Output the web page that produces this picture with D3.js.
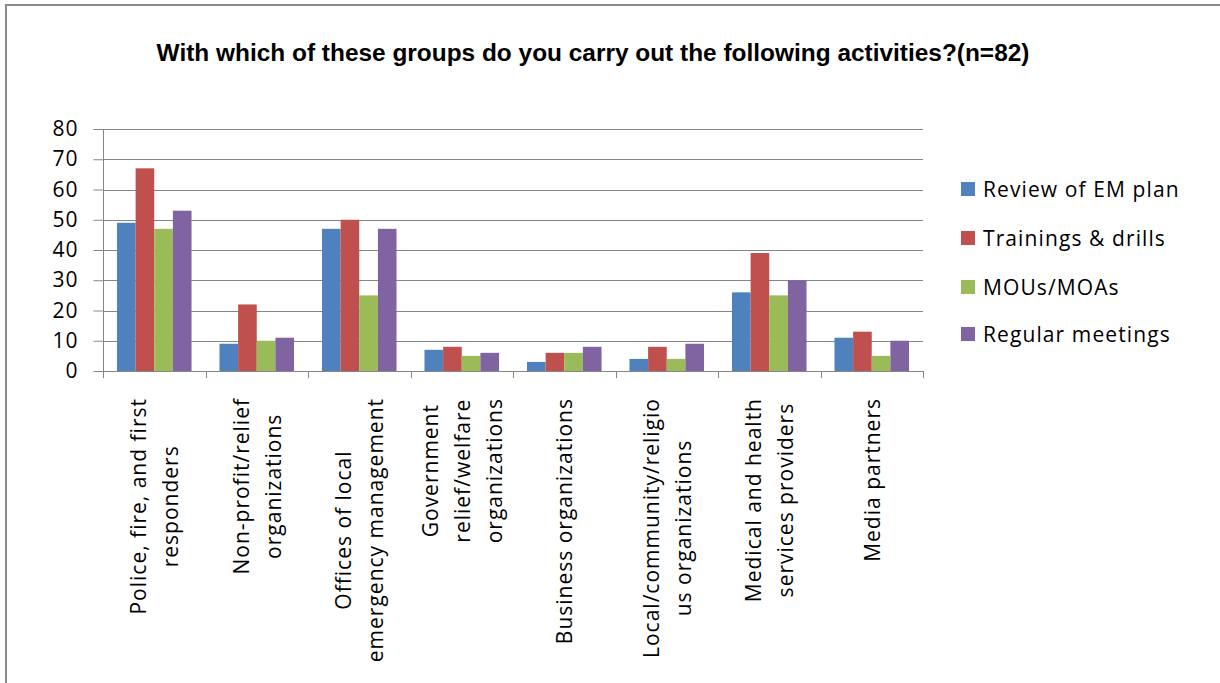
<!DOCTYPE html>
<html>
<head>
<meta charset="utf-8">
<script src="https://cdn.jsdelivr.net/npm/d3@7/dist/d3.min.js"></script>
<style>
  html, body { margin: 0; padding: 0; background: #fff; }
  svg { display: block; }
</style>
</head>
<body>
<svg id="chart" width="1220" height="683"></svg>
<script>
// Activity groups (x categories), split into the lines shown under the axis
const categories = [
  "Police, fire, and first responders",
  "Non-profit/relief organizations",
  "Offices of local emergency management",
  "Government relief/welfare organizations",
  "Business organizations",
  "Local/community/religious organizations",
  "Medical and health services providers",
  "Media partners"
];
const categoryLines = [
  ["Police, fire, and first", "responders"],
  ["Non-profit/relief", "organizations"],
  ["Offices of local", "emergency management"],
  ["Government", "relief/welfare", "organizations"],
  ["Business organizations"],
  ["Local/community/religio", "us organizations"],
  ["Medical and health", "services providers"],
  ["Media partners"]
];

// Series
const seriesNames = ["Review of EM plan", "Trainings & drills", "MOUs/MOAs", "Regular meetings"];
const reviewEMPlan     = [49,  9, 47, 7, 3, 4, 26, 11];
const trainingsDrills  = [67, 22, 50, 8, 6, 8, 39, 13];
const mousMoas         = [47, 10, 25, 5, 6, 4, 25,  5];
const regularMeetings  = [53, 11, 47, 6, 8, 9, 30, 10];
const seriesValues = [reviewEMPlan, trainingsDrills, mousMoas, regularMeetings];
const seriesColors = ["#4F81BD", "#C0504D", "#9BBB59", "#8064A2"];

const yTicks = [0, 10, 20, 30, 40, 50, 60, 70, 80];
const titleText = "With which of these groups do you carry out the following activities?(n=82)";

const svg = d3.select("#chart");
const W = 1220, H = 683;
const plot = { left: 103, right: 923, top: 129, bottom: 371 };
const axisColor = "#868686";
const uiFont = "'Open Sans', 'DejaVu Sans', sans-serif";

// Outer frame (top and left edges)
svg.append("line").attr("x1", 5).attr("x2", W).attr("y1", 5).attr("y2", 5)
  .attr("stroke", "#8a8a8a").attr("stroke-width", 2);
svg.append("line").attr("x1", 6).attr("x2", 6).attr("y1", 5).attr("y2", H)
  .attr("stroke", "#8a8a8a").attr("stroke-width", 2);

// Title, condensed horizontally to its width
const titleG = svg.append("g");
const title = titleG.append("text")
  .attr("x", 0).attr("y", 0)
  .attr("text-anchor", "middle")
  .attr("font-family", "'Liberation Sans', Arial, sans-serif")
  .attr("font-weight", "bold")
  .attr("font-size", 23)
  .attr("fill", "#000")
  .text(titleText);
{
  const len = title.node().getComputedTextLength();
  titleG.attr("transform", `translate(593,61) scale(${873 / len},1)`);
}

// Scales
const x0 = d3.scaleBand().domain(d3.range(categories.length))
  .range([plot.left, plot.right]).paddingInner(0).paddingOuter(0);
const barW = x0.bandwidth() / 5.5; // gap width 150%
const y = d3.scaleLinear().domain([0, 80]).range([plot.bottom, plot.top]);

// Gridlines
svg.append("g").selectAll("line").data(yTicks).join("line")
  .attr("x1", plot.left).attr("x2", plot.right)
  .attr("y1", d => Math.round(y(d)) + 0.5).attr("y2", d => Math.round(y(d)) + 0.5)
  .attr("stroke", axisColor).attr("stroke-width", 1);

// Bars
const groups = svg.append("g").selectAll("g").data(categories).join("g")
  .attr("transform", (d, i) => `translate(${x0(i) + barW * 0.75},0)`);
groups.selectAll("rect")
  .data((d, i) => seriesValues.map((vals, s) => ({ s, v: vals[i] })))
  .join("rect")
  .attr("x", d => d.s * barW)
  .attr("width", barW)
  .attr("y", d => y(d.v))
  .attr("height", d => y(0) - y(d.v))
  .attr("fill", d => seriesColors[d.s]);

// Y axis
const yAxis = d3.axisLeft(y).tickValues(yTicks).tickSize(10).tickPadding(15);
const gy = svg.append("g").attr("transform", `translate(${plot.left + 0.5},0)`).call(yAxis);
gy.select(".domain").attr("stroke", axisColor).attr("d", `M0,${plot.top}V${plot.bottom}`);
gy.selectAll(".tick line").attr("stroke", axisColor);
gy.selectAll(".tick text").attr("font-family", uiFont).attr("font-size", 21)
  .attr("letter-spacing", 1).attr("fill", "#000");

// X axis baseline and band separators
const xb = svg.append("g");
xb.append("line").attr("x1", plot.left).attr("x2", plot.right)
  .attr("y1", plot.bottom + 0.5).attr("y2", plot.bottom + 0.5).attr("stroke", axisColor);
xb.selectAll("line.sep").data(d3.range(categories.length + 1)).join("line")
  .attr("class", "sep")
  .attr("x1", i => Math.round(plot.left + i * x0.bandwidth()) + 0.5)
  .attr("x2", i => Math.round(plot.left + i * x0.bandwidth()) + 0.5)
  .attr("y1", plot.bottom).attr("y2", plot.bottom + 7)
  .attr("stroke", axisColor);

// Category labels, rotated, centred on each band
const labelSize = 21, lineH = 32, labelTop = 398;
categoryLines.forEach((lines, i) => {
  const cx = x0(i) + x0.bandwidth() / 2;
  const g = svg.append("g").attr("transform", `translate(${cx},${labelTop}) rotate(-90)`);
  const texts = lines.map((ln, k) => g.append("text")
    .attr("font-family", uiFont).attr("font-size", labelSize).attr("fill", "#000")
    .attr("letter-spacing", 1)
    .attr("text-anchor", "middle")
    .attr("dominant-baseline", "central")
    .attr("y", (k - (lines.length - 1) / 2) * lineH)
    .text(ln));
  const maxLen = d3.max(texts, t => t.node().getComputedTextLength());
  texts.forEach(t => t.attr("x", -maxLen / 2));
});

// Legend
const legend = svg.append("g");
const legendY = [189, 238, 287, 334];
seriesNames.forEach((name, s) => {
  legend.append("rect").attr("x", 961).attr("y", legendY[s] - 7)
    .attr("width", 14).attr("height", 14).attr("fill", seriesColors[s]);
  legend.append("text").attr("x", 983).attr("y", legendY[s])
    .attr("dominant-baseline", "central")
    .attr("font-family", uiFont).attr("font-size", 21).attr("letter-spacing", 1.1)
    .attr("fill", "#000")
    .text(name);
});
</script>
</body>
</html>
